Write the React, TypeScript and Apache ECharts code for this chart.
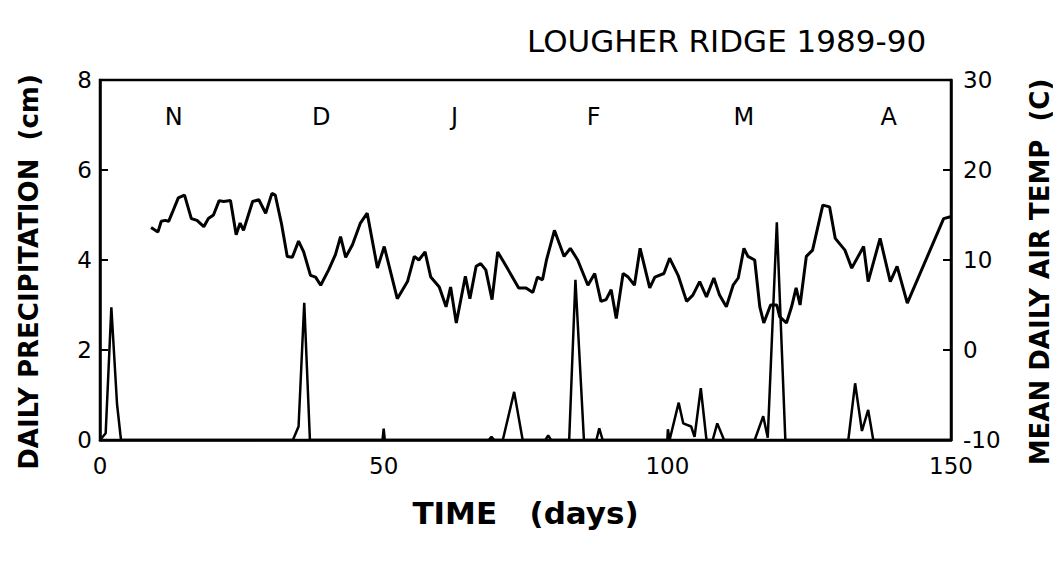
import React, { useEffect, useRef } from "react";
import * as echarts from "echarts";

const xTicks = [0, 50, 100, 150];
const precipTicks = [0, 2, 4, 6, 8];
const tempTicks = [-10, 0, 10, 20, 30];

const monthLabels = ["N", "D", "J", "F", "M", "A"];
const monthDays = [13, 39, 62.5, 87, 113.5, 139];
const monthLevel = 7.18;

const tempDays = [
  9.0, 10.2, 10.8, 11.5, 12.1, 12.7, 13.8, 14.9, 16.1, 17.1, 18.3, 19.1, 20.0, 21.0, 21.8, 23.0,
  24.0, 24.7, 25.3, 26.9, 28.0, 29.2, 30.3, 30.9, 32.0, 33.0, 33.9, 35.0, 35.9, 37.1, 38.0, 38.9,
  40.3, 41.5, 42.4, 43.3, 44.5, 45.9, 47.1, 48.9, 50.1, 52.4, 54.2, 55.4, 56.2, 57.3, 58.3, 59.8,
  61.0, 61.8, 62.8, 64.4, 65.2, 66.3, 67.1, 68.0, 69.1, 70.1, 71.6, 73.8, 75.1, 76.3, 77.1, 78.0,
  78.7, 80.1, 81.8, 82.9, 84.2, 86.0, 87.2, 88.3, 89.2, 90.1, 91.0, 92.2, 93.1, 94.2, 95.2, 96.9,
  97.8, 99.4, 100.4, 101.9, 103.4, 104.5, 105.7, 106.9, 108.2, 109.2, 110.4, 111.6, 112.5, 113.5,
  114.2, 115.4, 116.3, 117.0, 118.2, 119.3, 119.8, 121.0, 121.9, 122.7, 123.4, 124.5, 125.6, 127.4,
  128.6, 129.6, 131.3, 132.5, 134.6, 135.4, 137.5, 139.3, 140.5, 142.3, 148.7, 149.9,
];
const tempValues = [
  13.6, 13.1, 14.3, 14.4, 14.3, 15.2, 16.9, 17.2, 14.6, 14.4, 13.7, 14.6, 15.0, 16.6, 16.5, 16.6,
  12.8, 14.1, 13.3, 16.5, 16.7, 15.2, 17.4, 17.2, 14.0, 10.4, 10.3, 12.1, 10.9, 8.3, 8.1, 7.2,
  8.9, 10.6, 12.6, 10.3, 11.7, 14.1, 15.2, 9.1, 11.5, 5.7, 7.6, 10.4, 10.0, 10.9, 8.1, 7.0,
  4.8, 7.0, 3.0, 8.2, 5.7, 9.3, 9.6, 8.9, 5.6, 10.9, 9.3, 6.9, 6.9, 6.4, 8.1, 7.8,
  10.0, 13.3, 10.4, 11.3, 10.0, 7.2, 8.5, 5.4, 5.6, 6.7, 3.5, 8.5, 8.1, 7.2, 11.3, 6.9,
  8.1, 8.5, 10.2, 8.3, 5.4, 6.1, 7.6, 5.9, 8.0, 6.1, 4.8, 7.2, 8.0, 11.3,
  10.4, 10.0, 4.8, 3.0, 5.0, 5.0, 3.7, 3.0, 4.8, 6.9, 5.0, 10.4, 11.1, 16.1,
  15.9, 12.4, 11.1, 9.1, 11.5, 7.6, 12.4, 7.6, 9.3, 5.2, 14.6, 14.8,
];

const precipDays = [
  0, 1, 2, 3, 3.7,
  34, 35, 36, 37,
  49.8, 50, 50.2,
  68.5, 69, 69.5,
  71, 73, 74.5,
  78.5, 79, 79.5,
  82.7, 83.8, 85.3,
  87.5, 88, 88.6,
  100, 100.1, 100.4, 102, 102.8, 104.2, 104.8, 105.9, 106.9,
  108, 108.8, 110,
  115.4, 116.9, 117.7, 119.3, 120.8,
  131.9, 133.1, 134.3, 135.4, 136.3,
  150,
];
const precipValues = [
  0, 0.15, 2.95, 0.8, 0,
  0, 0.3, 3.05, 0,
  0, 0.25, 0,
  0, 0.07, 0,
  0, 1.07, 0,
  0, 0.1, 0,
  0, 3.56, 0,
  0, 0.26, 0,
  0, 0.24, 0, 0.83, 0.37, 0.3, 0.07, 1.15, 0,
  0, 0.37, 0,
  0, 0.53, 0.05, 4.84, 0,
  0, 1.26, 0.2, 0.67, 0,
  0,
];

const FONT = "DejaVu Sans";

export default function App() {
  const ref = useRef<HTMLDivElement>(null);
  useEffect(() => {
    if (!ref.current) return;
    const chart = echarts.init(ref.current, undefined, { renderer: "svg" });
    const axisLine = { show: true, lineStyle: { color: "#000", width: 2.5 } };
    chart.setOption({
      animation: false,
      backgroundColor: "#fff",
      title: {
        text: "LOUGHER RIDGE 1989-90",
        left: 522,
        top: 20,
        textStyle: { fontFamily: FONT, fontSize: 31, fontWeight: "normal", color: "#000" },
      },
      grid: {
        left: 100,
        right: 110,
        top: 80,
        bottom: 124,
        show: true,
        borderColor: "#000",
        borderWidth: 2.5,
        backgroundColor: "transparent",
      },
      xAxis: {
        type: "value",
        min: xTicks[0],
        max: xTicks[xTicks.length - 1],
        interval: 50,
        name: "TIME   (days)",
        nameLocation: "middle",
        nameGap: 57,
        nameTextStyle: { fontFamily: FONT, fontSize: 31, fontWeight: "bold", color: "#000" },
        axisLine,
        axisTick: { show: false },
        splitLine: { show: false },
        axisLabel: { fontFamily: FONT, fontSize: 23, color: "#000", margin: 14 },
      },
      yAxis: [
        {
          type: "value",
          position: "left",
          min: precipTicks[0],
          max: precipTicks[precipTicks.length - 1],
          interval: 2,
          name: "DAILY PRECIPITATION  (cm)",
          nameLocation: "middle",
          nameRotate: 90,
          nameGap: 58,
          nameTextStyle: {
            fontFamily: FONT,
            fontSize: 26,
            fontWeight: "bold",
            color: "#000",
            padding: [0, 24, 0, 0],
          },
          axisLine,
          axisTick: { show: true, inside: true, length: 8, lineStyle: { color: "#000", width: 2 } },
          splitLine: { show: false },
          axisLabel: { fontFamily: FONT, fontSize: 23, color: "#000", margin: 8 },
        },
        {
          type: "value",
          position: "right",
          min: tempTicks[0],
          max: tempTicks[tempTicks.length - 1],
          interval: 10,
          name: "MEAN DAILY AIR TEMP  (C)",
          nameLocation: "middle",
          nameRotate: 90,
          nameGap: 76,
          nameTextStyle: {
            fontFamily: FONT,
            fontSize: 26,
            fontWeight: "bold",
            color: "#000",
            padding: [0, 24, 0, 0],
          },
          axisLine,
          axisTick: { show: true, inside: true, length: 8, lineStyle: { color: "#000", width: 2 } },
          splitLine: { show: false },
          axisLabel: { fontFamily: FONT, fontSize: 23, color: "#000", margin: 12 },
        },
      ],
      series: [
        {
          name: "Precipitation",
          type: "line",
          yAxisIndex: 0,
          data: precipDays.map((d, i) => [d, precipValues[i]]),
          showSymbol: false,
          symbol: "none",
          lineStyle: { color: "#000", width: 2.5 },
          z: 3,
        },
        {
          name: "Temperature",
          type: "line",
          yAxisIndex: 1,
          data: tempDays.map((d, i) => [d, tempValues[i]]),
          showSymbol: false,
          symbol: "none",
          lineStyle: { color: "#000", width: 3 },
          z: 3,
        },
        {
          name: "Months",
          type: "scatter",
          yAxisIndex: 0,
          symbolSize: 0,
          itemStyle: { opacity: 1, color: "#000" },
          data: monthLabels.map((m, i) => ({ name: m, value: [monthDays[i], monthLevel] })),
          label: {
            show: true,
            position: "inside",
            formatter: (p: any) => p.name,
            fontFamily: FONT,
            fontSize: 24,
            color: "#000",
            opacity: 1,
          },
          silent: true,
        },
      ],
    });
    return () => chart.dispose();
  }, []);
  return <div ref={ref} style={{ width: 1061, height: 564, margin: -8 }} />;
}
